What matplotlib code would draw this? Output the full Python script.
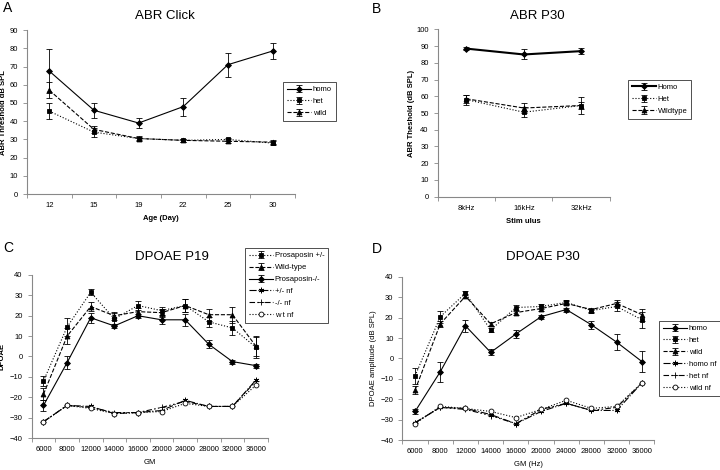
import matplotlib
matplotlib.use("Agg")
import matplotlib.pyplot as plt
import numpy as np

plt.rcParams['font.family'] = ['Liberation Sans', 'DejaVu Sans']

# ---- panel A: ABR click ----
a_days = ['12', '15', '19', '22', '25', '30']
a_homo = [67.5, 46, 39, 48, 71, 78.5]
a_homo_err = [12, 4, 2.5, 5, 6.5, 4.5]
a_het = [45.5, 34, 30.5, 29.5, 30, 28]
a_het_err = [4.5, 2.5, 1, 1, 1, 1]
a_wild = [57, 35.5, 30.5, 29.5, 29, 28.5]
a_wild_err = [4.5, 2, 1.5, 1, 1, 1]

# ---- panel B: ABR P30 ----
b_stim = ['8kHz', '16kHz', '32kHz']
b_homo = [88.5, 85, 87]
b_homo_err = [1, 3, 2]
b_het = [58, 50.5, 54.5]
b_het_err = [3, 3, 5]
b_wild = [58.5, 53, 54.5]
b_wild_err = [2.5, 3, 2]

# ---- panels C/D: DPOAE ----
gm = ['6000', '8000', '12000', '14000', '16000', '20000', '24000', '28000', '32000', '36000']

c_het = [-12, 14.5, 31.5, 18.5, 25, 22.5, 25, 17, 14, 4.5]
c_het_err = [2.5, 4.5, 1.5, 3, 2, 2, 3, 2.5, 3.5, 5]
c_wild = [-18.5, 10, 24.5, 20, 22, 21.5, 25, 20.5, 20.5, 5]
c_wild_err = [3, 4, 2, 2, 2, 2, 3, 3, 4, 5]
c_homo = [-24, -3, 19, 15, 20, 18, 18, 6, -2.5, -4.5]
c_homo_err = [2.5, 3, 2.5, 1, 1, 2, 3, 2, 1, 1]
c_het_nf = [-32, -24, -24.5, -28, -27.5, -26.5, -21.5, -24.5, -24.5, -11.5]
c_homo_nf = [-32, -24, -25, -27.5, -27.5, -25, -22, -24.5, -24.5, -12]
c_wild_nf = [-32, -24, -25.5, -28, -27.5, -27, -23, -24.5, -24.5, -14]

d_homo = [-26, -6.5, 16, 3, 12, 20.5, 24, 16.5, 8, -1.5]
d_homo_err = [1, 5, 3, 1.5, 2, 1, 1, 2, 4, 5]
d_het = [-8.5, 20.5, 32, 14, 25, 25.5, 27.5, 23.5, 25.5, 19]
d_het_err = [4, 3, 1, 1, 1, 1, 1, 1, 2, 4]
d_wild = [-15.5, 17, 30.5, 17, 22.5, 24.5, 27, 24, 27, 21.5]
d_wild_err = [2, 1.5, 1, 1, 1, 1, 1, 1, 1.5, 3]
d_homo_nf = [-31.5, -24, -24.5, -27.5, -32, -26, -22, -25.5, -25.5, -12]
d_het_nf = [-31.5, -24, -25, -28, -32, -25, -22, -25.5, -24, -12]
d_wild_nf = [-32, -23.5, -24.5, -26, -29, -25, -20.5, -24.5, -23.5, -12]

FS = 5.5
dashdot2 = (0, (5, 2, 1.5, 2, 1.5, 2))


def excel_axes(ax, cats, ylo, yhi, ystep):
    n = len(cats)
    ax.set_xlim(-0.5, n - 0.5)
    ax.set_ylim(ylo, yhi)
    ax.set_xticks(np.arange(n))
    ax.set_xticklabels(cats)
    ax.set_xticks(np.arange(n + 1) - 0.5, minor=True)
    ax.tick_params(axis='x', which='major', length=0, labelsize=FS, pad=6)
    ax.tick_params(axis='x', which='minor', length=3, width=0.6, color='#888888')
    ax.set_yticks(np.arange(ylo, yhi + 0.1, ystep))
    ax.tick_params(axis='y', length=3, width=0.6, labelsize=FS, color='#888888')
    for s in ['top', 'right']:
        ax.spines[s].set_visible(False)
    for s in ['left', 'bottom']:
        ax.spines[s].set_color('#888888')
        ax.spines[s].set_linewidth(0.8)


def series(ax, y, err, ls, marker, label, mfc='black', ms=3.5, lw=0.8):
    x = np.arange(len(y))
    ax.errorbar(x, y, yerr=err, color='black', ls=ls, lw=lw, marker=marker,
                ms=ms, mfc=mfc, mec='black', mew=0.6, ecolor='black',
                elinewidth=0.6, capsize=2, capthick=0.6, label=label)


def legend(ax, anchor):
    lg = ax.legend(loc='upper left', bbox_to_anchor=anchor,
                   bbox_transform=fig.transFigure, fontsize=FS, frameon=True,
                   fancybox=False, edgecolor='black', handlelength=3.2,
                   borderpad=0.5, labelspacing=0.6, handletextpad=0.2,
                   borderaxespad=0)
    lg.get_frame().set_linewidth(0.6)
    return lg


fig = plt.figure(figsize=(7.2, 4.7), dpi=100)

# A
axA = fig.add_axes([0.0375, 0.587, 0.372, 0.349])
excel_axes(axA, a_days, 0, 90, 10)
series(axA, a_homo, a_homo_err, '-', 'D', 'homo', ms=3)
series(axA, a_het, a_het_err, ':', 's', 'het')
series(axA, a_wild, a_wild_err, '--', '^', 'wild')
axA.set_xlabel('Age (Day)', fontsize=FS, fontweight='bold')
axA.set_ylabel('ABR Threshold dB SPL', fontsize=FS, fontweight='bold')
axA.yaxis.set_label_coords(-0.075, 0.5)
legend(axA, (0.393, 0.8255))

# B
axB = fig.add_axes([0.608, 0.5815, 0.239, 0.356])
excel_axes(axB, b_stim, 0, 100, 10)
series(axB, b_homo, b_homo_err, '-', 'D', 'Homo', ms=3, lw=1.5)
series(axB, b_het, b_het_err, ':', 's', 'Het')
series(axB, b_wild, b_wild_err, '--', '^', 'Wildtype')
axB.set_xlabel('Stim ulus', fontsize=FS, fontweight='bold')
axB.set_ylabel('ABR Theshold (dB SPL)', fontsize=FS, fontweight='bold')
axB.yaxis.set_label_coords(-0.13, 0.5)
legend(axB, (0.872, 0.830))

# C
axC = fig.add_axes([0.044, 0.068, 0.328, 0.347])
excel_axes(axC, gm, -40, 40, 10)
series(axC, c_het, c_het_err, ':', 's', 'Prosaposin +/-')
series(axC, c_wild, c_wild_err, '--', '^', 'Wild-type')
series(axC, c_homo, c_homo_err, '-', 'D', 'Prosaposin-/-', ms=3)
series(axC, c_het_nf, None, '-.', (6, 2, 0), '+/- nf', ms=4)
series(axC, c_homo_nf, None, dashdot2, '+', '-/- nf', ms=4)
series(axC, c_wild_nf, None, ':', 'o', 'w t nf', mfc='white', ms=3.5)
axC.set_xlabel('GM', fontsize=FS)
axC.set_ylabel('DPOAE', fontsize=FS, fontweight='bold')
axC.yaxis.set_label_coords(-0.11, 0.5)
legend(axC, (0.340, 0.472))

# D
axD = fig.add_axes([0.559, 0.0638, 0.350, 0.347])
excel_axes(axD, gm, -40, 40, 10)
series(axD, d_homo, d_homo_err, '-', 'D', 'homo', ms=3)
series(axD, d_het, d_het_err, ':', 's', 'het')
series(axD, d_wild, d_wild_err, '--', '^', 'wild')
series(axD, d_homo_nf, None, '-.', (6, 2, 0), 'homo nf', ms=4)
series(axD, d_het_nf, None, dashdot2, '+', 'het nf', ms=4)
series(axD, d_wild_nf, None, ':', 'o', 'wild nf', mfc='white', ms=3.5)
axD.set_xlabel('GM (Hz)', fontsize=FS)
axD.set_ylabel('DPOAE amplitude (dB SPL)', fontsize=FS)
axD.yaxis.set_label_coords(-0.1, 0.5)
legend(axD, (0.915, 0.317))

# titles and panel letters
fig.text(165 / 720, 1 - 16 / 470, 'ABR Click', ha='center', va='center', fontsize=9.5)
fig.text(537 / 720, 1 - 16 / 470, 'ABR P30', ha='center', va='center', fontsize=9.5)
fig.text(172 / 720, 1 - 257 / 470, 'DPOAE P19', ha='center', va='center', fontsize=9.5)
fig.text(543 / 720, 1 - 257 / 470, 'DPOAE P30', ha='center', va='center', fontsize=9.5)
for lbl, x, y in [('A', 3, 8), ('B', 372, 9), ('C', 3, 248), ('D', 372, 249)]:
    fig.text(x / 720, 1 - y / 470, lbl, ha='left', va='center', fontsize=10)

fig.savefig('out.png', dpi=100)
